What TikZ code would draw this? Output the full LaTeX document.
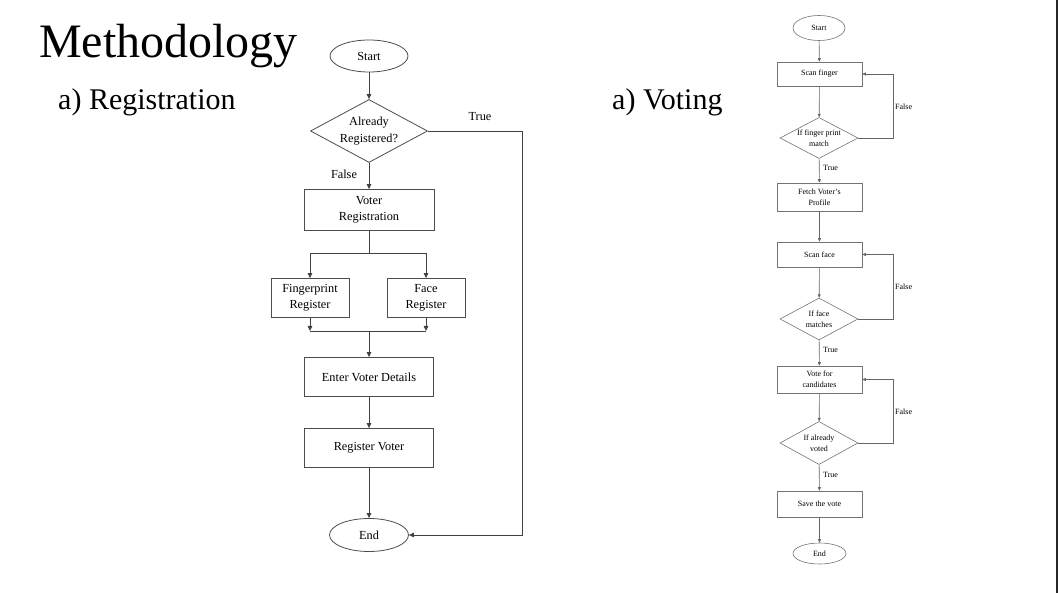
\documentclass[tikz,border=0pt]{standalone}
\usepackage{fontspec}
\setmainfont{Liberation Serif}
\usepackage{tikz}
\usetikzlibrary{positioning,arrows.meta,calc,shapes.geometric}

\begin{document}
\begin{tikzpicture}[
		x=1pt, y=-1pt,
		title/.style={inner sep=0pt, anchor=base west, font=\fontsize{48}{50}\selectfont},
		subtitle/.style={inner sep=0pt, anchor=base west, font=\fontsize{30}{32}\selectfont},
		rbox/.style={draw=black!70, line width=0.8pt, align=center, inner sep=1pt,
				font=\fontsize{12.3}{15.5}\selectfont},
		rterm/.style={rbox, ellipse},
		rdec/.style={rbox, diamond, aspect=1.86, inner sep=0pt,
				font=\fontsize{12.3}{17.5}\selectfont},
		rarr/.style={-{Triangle[length=5pt, width=4.5pt]}, draw=black!75, line width=0.8pt},
		rline/.style={draw=black!75, line width=0.8pt},
		rlab/.style={font=\fontsize{12.3}{15}\selectfont, inner sep=0pt},
		vbox/.style={draw=black!55, line width=0.6pt, align=center, inner sep=1pt,
				font=\fontsize{8}{11}\selectfont},
		vterm/.style={vbox, ellipse},
		vdec/.style={vbox, diamond, aspect=1.9, inner sep=0pt},
		varr/.style={-{Triangle[length=3.5pt, width=3pt]}, draw=black!60, line width=0.6pt},
		vlab/.style={font=\fontsize{8}{9.5}\selectfont, inner sep=0pt, anchor=west}
		]
		\useasboundingbox (0,0) rectangle (1058,593);

		% headings
		\node[title] (head) at (39,58) {Methodology};
		\node[subtitle] (regtitle) at (58,110) {a) Registration};
		\node[subtitle] (vottitle) at (612,110) {a) Voting};

		% registration flow
		\node[rterm, minimum width=78pt, minimum height=32pt] (start) at (369,56) {Start};
		\node[rdec, minimum width=117pt, minimum height=63pt] (already) at (369,131)
		{Already\\Registered?};
		\node[rbox, minimum width=130pt, minimum height=41pt] (voterreg) at (369,210)
		{Voter\\Registration};
		\node[rbox, minimum width=78pt, minimum height=39pt] (fingerreg) at (310,298)
		{Fingerprint\\Register};
		\node[rbox, minimum width=78pt, minimum height=39pt] (facereg) at (426,298)
		{Face\\Register};
		\node[rbox, minimum width=129pt, minimum height=39pt] (details) at (369,377)
		{Enter Voter Details};
		\node[rbox, minimum width=129pt, minimum height=39pt] (register) at (369,448)
		{Register Voter};
		\node[rterm, minimum width=79pt, minimum height=33pt] (end) at (369,535) {End};

		\coordinate (split) at (369,253);
		\coordinate (merge) at (369,331);
		\coordinate (truebend) at (522,131);

		\draw[rarr] (start) -- (already);
		\draw[rarr] (already) -- (voterreg);
		\node[rlab] (falselab) at (344,174) {False};
		\draw[rline] (already.east) -- (truebend);
		\draw[rarr] (truebend) |- (end.east);
		\node[rlab] (truelab) at (480,117) {True};
		\draw[rline] (voterreg) -- (split);
		\draw[rline] (fingerreg.north |- split) -- (facereg.north |- split);
		\draw[rarr] (fingerreg.north |- split) -- (fingerreg.north);
		\draw[rarr] (facereg.north |- split) -- (facereg.north);
		\draw[rarr] (fingerreg.south) -- (fingerreg.south |- merge);
		\draw[rarr] (facereg.south) -- (facereg.south |- merge);
		\draw[rline] (fingerreg.south |- merge) -- (facereg.south |- merge);
		\draw[rarr] (merge) -- (details);
		\draw[rarr] (details) -- (register);
		\draw[rarr] (register) -- (end);

		% voting flow
		\node[vterm, minimum width=52pt, minimum height=25pt] (vstart) at (819,28) {Start};
		\node[vbox, minimum width=85pt, minimum height=24pt] (scanfinger) at (819.5,74)
		{Scan finger};
		\node[vdec, minimum width=78pt, minimum height=41pt] (fingermatch) at (819,138)
		{If finger print\\match};
		\node[vbox, minimum width=85pt, minimum height=28pt] (fetch) at (819.5,197)
		{Fetch Voter's\\Profile};
		\node[vbox, minimum width=85pt, minimum height=25pt] (scanface) at (819.5,254.5)
		{Scan face};
		\node[vdec, minimum width=78pt, minimum height=42pt] (facematch) at (819,319)
		{If face\\matches};
		\node[vbox, minimum width=85pt, minimum height=27pt] (vote) at (819.5,379.5)
		{Vote for\\candidates};
		\node[vdec, minimum width=78pt, minimum height=43pt] (voted) at (819,443)
		{If already\\voted};
		\node[vbox, minimum width=85pt, minimum height=26pt] (save) at (819.5,504)
		{Save the vote};
		\node[vterm, minimum width=53pt, minimum height=21pt] (vend) at (819.5,553.5) {End};

		\draw[varr] (vstart) -- (scanfinger);
		\draw[varr] (scanfinger) -- (fingermatch);
		\draw[varr] (fingermatch) -- (fetch);
		\node[vlab] (true1) at (823,168) {True};
		\draw[varr] (fingermatch.east) -- ++(35,0) |- (scanfinger.east);
		\node[vlab] (false1) at (895,107) {False};
		\draw[varr] (fetch) -- (scanface);
		\draw[varr] (scanface) -- (facematch);
		\draw[varr] (facematch) -- (vote);
		\node[vlab] (true2) at (823,350) {True};
		\draw[varr] (facematch.east) -- ++(35,0) |- (scanface.east);
		\node[vlab] (false2) at (895,287) {False};
		\draw[varr] (vote) -- (voted);
		\draw[varr] (voted) -- (save);
		\node[vlab] (true3) at (823,475) {True};
		\draw[varr] (voted.east) -- ++(35,0) |- (vote.east);
		\node[vlab] (false3) at (895,412) {False};
		\draw[varr] (save) -- (vend);

		% slide edge
		\draw[line width=2pt, black!85] (1057,0) -- (1057,593);
	\end{tikzpicture}
\end{document}
